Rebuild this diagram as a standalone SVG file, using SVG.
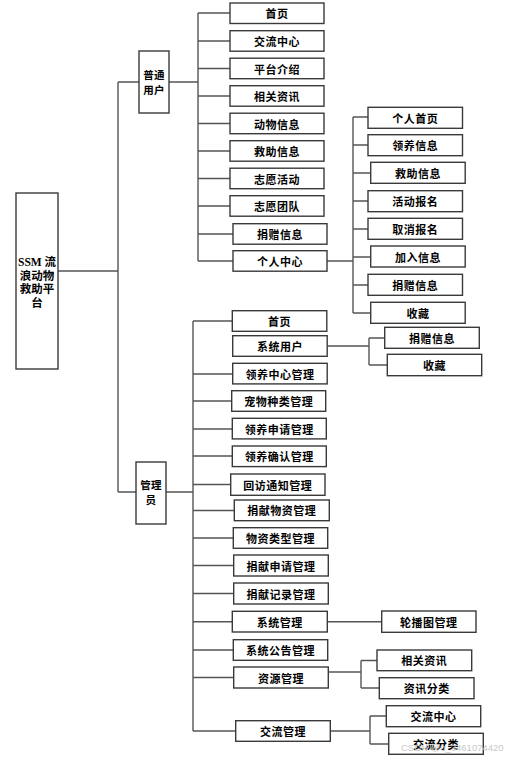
<svg xmlns="http://www.w3.org/2000/svg" width="514" height="761" viewBox="0 0 514 761">
<style>
.b{fill:#fff;stroke:#3a3a3a;stroke-width:1.4}
.t{font-family:"Noto Sans CJK SC","Noto Sans",sans-serif;font-size:11px;font-weight:bold;fill:#000;text-anchor:middle;dominant-baseline:central;letter-spacing:0.5px}
.v{font-family:"Noto Sans CJK SC","Noto Sans",sans-serif;font-size:10.5px;font-weight:bold;fill:#000;text-anchor:middle;letter-spacing:0.3px}
.c{fill:none;stroke:#555;stroke-width:1.4}
.m{font-family:"Liberation Serif","Noto Sans CJK SC",serif;font-size:11.5px;font-weight:bold;fill:#000;text-anchor:middle}
</style>
<rect width="514" height="761" fill="#fff"/>
<g id="connectors">
<path class="c" d="M58 271H118M118 82V492M118 82H139M118 492H136"/>
<path class="c" d="M169 82H198M198 13V261M198 13H230M198 41H230M198 68.5H230M198 96H230M198 123.5H230M198 151H230M198 178.5H230M198 206H230M198 234H233M198 261H233"/>
<path class="c" d="M327 261H353M353 117V313M353 117H368M353 145H368M353 173H371M353 201H368M353 229H368M353 257H371M353 285H368M353 313H371"/>
<path class="c" d="M166 492H193M193 321V731M193 321H232M193 374H233M193 401H232M193 429H232M193 456H232M193 484.5H231M193 510.5H234M193 538H233M193 565.5H234M193 593.5H234M193 621.7H232M193 650H233M193 677.5H234M193 731H236"/>
<path class="c" d="M327 346H369M369 338V365M369 338H385M369 365H387"/>
<path class="c" d="M327 621.7H382"/>
<path class="c" d="M328 672H361M361 660.5V688M361 660.5H377M361 688H379"/>
<path class="c" d="M330 731H370M370 716V744M370 716H386M370 744H389"/>
</g>
<g id="root"><rect class="b" x="16" y="193" width="42" height="176"/>
<text class="m" x="37" y="266">SSM 流</text><text class="m" x="37" y="279.5">浪动物</text><text class="m" x="37" y="293">救助平</text><text class="m" x="37" y="306.5">台</text></g>
<g id="user"><rect class="b" x="139" y="51" width="30" height="62"/><text class="v" x="154" y="79">普通</text><text class="v" x="154" y="94">用户</text></g>
<g id="admin"><rect class="b" x="136" y="462" width="30" height="62"/><text class="v" x="151" y="489">管理</text><text class="v" x="151" y="504">员</text></g>
<g id="u1"><rect class="b" x="230" y="3" width="94" height="20.5"/><text class="t" x="277" y="13.2">首页</text></g>
<g id="u2"><rect class="b" x="230" y="30.7" width="94" height="20.5"/><text class="t" x="277" y="41">交流中心</text></g>
<g id="u3"><rect class="b" x="230" y="58.2" width="94" height="20.5"/><text class="t" x="277" y="68.5">平台介绍</text></g>
<g id="u4"><rect class="b" x="230" y="85.7" width="94" height="20.5"/><text class="t" x="277" y="96">相关资讯</text></g>
<g id="u5"><rect class="b" x="230" y="113.2" width="94" height="20.5"/><text class="t" x="277" y="123.5">动物信息</text></g>
<g id="u6"><rect class="b" x="230" y="140.7" width="94" height="20.5"/><text class="t" x="277" y="151">救助信息</text></g>
<g id="u7"><rect class="b" x="230" y="168.2" width="94" height="20.5"/><text class="t" x="277" y="178.5">志愿活动</text></g>
<g id="u8"><rect class="b" x="230" y="195.7" width="94" height="20.5"/><text class="t" x="277" y="206">志愿团队</text></g>
<g id="u9"><rect class="b" x="233" y="223.7" width="94" height="20.5"/><text class="t" x="280" y="234">捐赠信息</text></g>
<g id="u10"><rect class="b" x="233" y="250.7" width="94" height="20.5"/><text class="t" x="280" y="261">个人中心</text></g>
<g id="p1"><rect class="b" x="368" y="107.3" width="94.5" height="21"/><text class="t" x="415.3" y="117.8">个人首页</text></g>
<g id="p2"><rect class="b" x="368" y="134.7" width="94.5" height="21"/><text class="t" x="415.3" y="145.2">领养信息</text></g>
<g id="p3"><rect class="b" x="370.7" y="162.3" width="94.5" height="21"/><text class="t" x="418" y="172.8">救助信息</text></g>
<g id="p4"><rect class="b" x="368" y="190.7" width="94.5" height="21"/><text class="t" x="415.3" y="201.2">活动报名</text></g>
<g id="p5"><rect class="b" x="368" y="218.3" width="94.5" height="21"/><text class="t" x="415.3" y="228.8">取消报名</text></g>
<g id="p6"><rect class="b" x="370.7" y="246" width="94.5" height="21"/><text class="t" x="418" y="256.5">加入信息</text></g>
<g id="p7"><rect class="b" x="368" y="274.3" width="94.5" height="21"/><text class="t" x="415.3" y="284.8">捐赠信息</text></g>
<g id="p8"><rect class="b" x="370.7" y="302.3" width="94.5" height="21"/><text class="t" x="418" y="312.8">收藏</text></g>
<g id="a1"><rect class="b" x="232.3" y="310.7" width="94.5" height="20.6"/><text class="t" x="279.5" y="321">首页</text></g>
<g id="a2"><rect class="b" x="232.7" y="335.7" width="94.5" height="20.6"/><text class="t" x="280" y="346">系统用户</text></g>
<g id="a3"><rect class="b" x="232.7" y="363.3" width="94.5" height="20.6"/><text class="t" x="280" y="373.6">领养中心管理</text></g>
<g id="a4"><rect class="b" x="231.7" y="390.7" width="94" height="20.6"/><text class="t" x="278.7" y="401">宠物种类管理</text></g>
<g id="a5"><rect class="b" x="232.3" y="418.3" width="94" height="20.6"/><text class="t" x="279.3" y="428.6">领养申请管理</text></g>
<g id="a6"><rect class="b" x="232.3" y="446" width="94" height="20.6"/><text class="t" x="279.3" y="456.3">领养确认管理</text></g>
<g id="a7"><rect class="b" x="230.7" y="474" width="94.3" height="21.3"/><text class="t" x="277.8" y="484.6">回访通知管理</text></g>
<g id="a8"><rect class="b" x="234.3" y="500" width="95" height="20.7"/><text class="t" x="281.8" y="510.3">捐献物资管理</text></g>
<g id="a9"><rect class="b" x="233.3" y="527.7" width="94.4" height="20.6"/><text class="t" x="280.5" y="538">物资类型管理</text></g>
<g id="a10"><rect class="b" x="233.7" y="555" width="94.6" height="21"/><text class="t" x="281" y="565.5">捐献申请管理</text></g>
<g id="a11"><rect class="b" x="233.7" y="583" width="94.6" height="21"/><text class="t" x="281" y="593.5">捐献记录管理</text></g>
<g id="a12"><rect class="b" x="232.3" y="611.3" width="95" height="20.7"/><text class="t" x="279.8" y="621.6">系统管理</text></g>
<g id="a13"><rect class="b" x="233.3" y="639.7" width="94.4" height="20.6"/><text class="t" x="280.5" y="650">系统公告管理</text></g>
<g id="a14"><rect class="b" x="233.7" y="667" width="94.6" height="21"/><text class="t" x="281" y="677.5">资源管理</text></g>
<g id="a15"><rect class="b" x="235.7" y="720.7" width="94.6" height="20.6"/><text class="t" x="283" y="731">交流管理</text></g>
<g id="s1"><rect class="b" x="384.7" y="327.3" width="94.6" height="21"/><text class="t" x="432" y="337.8">捐赠信息</text></g>
<g id="s2"><rect class="b" x="387.3" y="354.3" width="94.4" height="21.4"/><text class="t" x="434.5" y="365">收藏</text></g>
<g id="s3"><rect class="b" x="381.7" y="611" width="94.3" height="21.3"/><text class="t" x="428.8" y="621.6">轮播图管理</text></g>
<g id="s4"><rect class="b" x="377" y="650" width="94.7" height="20.7"/><text class="t" x="424.3" y="660.3">相关资讯</text></g>
<g id="s5"><rect class="b" x="379.3" y="677.7" width="94.7" height="21"/><text class="t" x="426.7" y="688.2">资讯分类</text></g>
<g id="s6"><rect class="b" x="386.3" y="705.7" width="94.4" height="21"/><text class="t" x="433.5" y="716.2">交流中心</text></g>
<g id="s7"><rect class="b" x="388.7" y="733.3" width="94.6" height="21"/><text class="t" x="436" y="743.8">交流分类</text></g>
<text x="401" y="751" font-family="Liberation Sans,Arial,sans-serif" font-size="9.5" fill="#c8c8c8">CSDN @u_3461074420</text>
</svg>
